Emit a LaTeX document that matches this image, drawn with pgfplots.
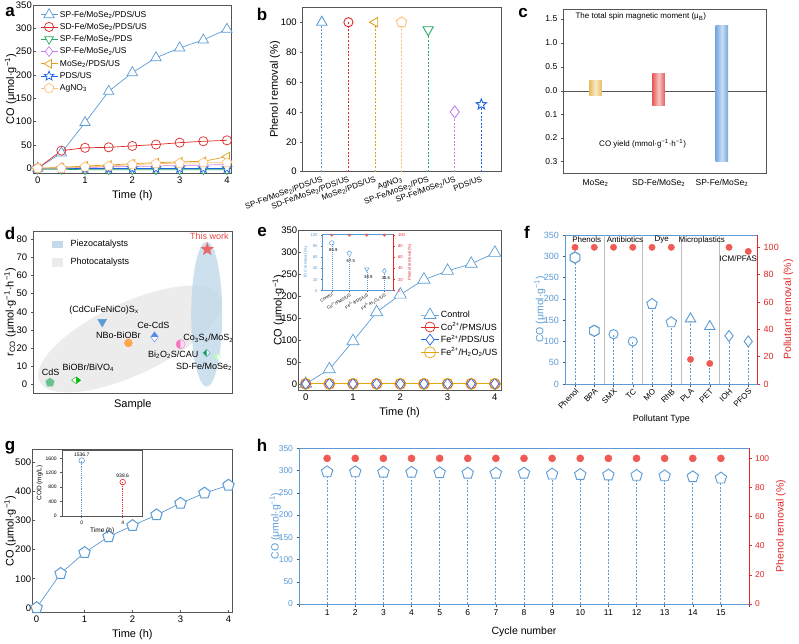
\documentclass[border=0pt]{standalone}
\usepackage{pgfplots}
\pgfplotsset{compat=1.18}
\usepackage{fontspec}
\setmainfont{Liberation Sans}
\usetikzlibrary{plotmarks}

\definecolor{cblue}{RGB}{91,155,213}
\definecolor{cred}{RGB}{224,40,40}
\definecolor{cgreen}{RGB}{40,168,100}
\definecolor{cpurple}{RGB}{196,128,240}
\definecolor{corange}{RGB}{222,160,30}
\definecolor{cstar}{RGB}{30,96,228}
\definecolor{cpeach}{RGB}{255,192,120}
\definecolor{cyell}{RGB}{226,168,20}
\definecolor{cdblue}{RGB}{35,100,225}
\definecolor{csalmon}{RGB}{240,90,85}
\definecolor{cgold}{RGB}{232,188,90}
\definecolor{cbarred}{RGB}{232,90,90}
\definecolor{cbarblue}{RGB}{120,168,225}
\definecolor{cpiezo}{RGB}{196,218,234}
\definecolor{cphoto}{RGB}{236,236,236}
\definecolor{frame}{RGB}{85,85,85}

\newcommand{\fs}[1]{\fontsize{#1}{#1}\selectfont}
\newcommand{\sub}[1]{\textsubscript{#1}}
\newcommand{\sups}[1]{\textsuperscript{#1}}

% hexagon mark (vertex up)
\pgfdeclareplotmark{hexagon*}{%
  \pgfpathmoveto{\pgfqpointpolar{90}{\pgfplotmarksize}}%
  \pgfpathlineto{\pgfqpointpolar{150}{\pgfplotmarksize}}%
  \pgfpathlineto{\pgfqpointpolar{210}{\pgfplotmarksize}}%
  \pgfpathlineto{\pgfqpointpolar{270}{\pgfplotmarksize}}%
  \pgfpathlineto{\pgfqpointpolar{330}{\pgfplotmarksize}}%
  \pgfpathlineto{\pgfqpointpolar{30}{\pgfplotmarksize}}%
  \pgfpathclose
  \pgfusepathqfillstroke}
% five-pointed star mark
\pgfdeclareplotmark{fivestar*}{%
  \pgfpathmoveto{\pgfpointpolar{90}{\pgfplotmarksize}}%
  \pgfpathlineto{\pgfpointpolar{126}{0.42\pgfplotmarksize}}%
  \pgfpathlineto{\pgfpointpolar{162}{\pgfplotmarksize}}%
  \pgfpathlineto{\pgfpointpolar{198}{0.42\pgfplotmarksize}}%
  \pgfpathlineto{\pgfpointpolar{234}{\pgfplotmarksize}}%
  \pgfpathlineto{\pgfpointpolar{270}{0.42\pgfplotmarksize}}%
  \pgfpathlineto{\pgfpointpolar{306}{\pgfplotmarksize}}%
  \pgfpathlineto{\pgfpointpolar{342}{0.42\pgfplotmarksize}}%
  \pgfpathlineto{\pgfpointpolar{18}{\pgfplotmarksize}}%
  \pgfpathlineto{\pgfpointpolar{54}{0.42\pgfplotmarksize}}%
  \pgfpathclose
  \pgfusepathqfillstroke}

\pgfplotsset{
  /pgf/number format/assume math mode=true,
  /pgf/number format/1000 sep={},
  panel/.style={
    scale only axis, anchor=south west,
    axis line style={frame, line width=0.6pt},
    every tick/.style={frame, line width=0.5pt},
    tick align=outside, major tick length=2.5pt,
    xtick pos=bottom, ytick pos=left,
    tick label style={font=\fs{9.5}},
    label style={font=\fs{11}},
    clip=false,
  },
  tight/.style={tick align=inside, yticklabel style={inner sep=1pt}},
  ylab/.style={ylabel style={at={(axis description cs:#1,0.5)}, anchor=center}},
  openm/.style={mark options={solid, fill=white}},
  stem/.style={ycomb, line width=0.9pt, dash pattern=on 2pt off 1.6pt},
}

\begin{document}
\begin{tikzpicture}
\useasboundingbox (0pt,0pt) rectangle (799pt,643pt);

% ---------------- panel letters ----------------
\foreach \l/\px/\py in {a/10/12, b/262/14, c/523/13, d/10/233, e/262/232, f/527/232, g/10/448, h/262/445}
  \node[font=\bfseries\fs{17}] at (\px pt,643pt-\py pt) {\l};

% ================= (a) =================
\begin{axis}[panel, tight, at={(33pt,470pt)}, width=198.7pt, height=168pt,
  xmin=-0.1, xmax=4.1, ymin=-10, ymax=350,
  xtick={0,1,2,3,4}, ytick={0,50,...,350},
  xlabel={Time (h)}, ylabel={CO (μmol·g\sups{−1})}, ylab=-0.113,
  legend style={at={(0.03,0.985)}, anchor=north west, draw=none, fill=none,
    font=\fs{8.5}, row sep=0.6pt, inner sep=1pt},
  legend cell align=left]
\addplot[cblue, line width=0.7pt, mark=triangle*, mark size=6, openm]
  coordinates {(0,0) (0.5,33) (1,98) (1.5,165) (2,205) (2.5,237) (3,258) (3.5,275) (4,298)};
\addlegendentry{SP-Fe/MoSe\sub{2}/PDS/US}
\addplot[cred, line width=0.7pt, mark=o, mark size=4.6, openm]
  coordinates {(0,0) (0.5,38) (1,44) (1.5,45) (2,48) (2.5,51) (3,55) (3.5,58) (4,60)};
\addlegendentry{SD-Fe/MoSe\sub{2}/PDS/US}
\addplot[cgreen, line width=0.7pt, mark=triangle*, mark size=5, mark options={solid, fill=white, rotate=180}]
  coordinates {(0,-2) (0.5,-2) (1,-3) (1.5,-3) (2,-3) (2.5,-3) (3,-3) (3.5,-3) (4,-3)};
\addlegendentry{SP-Fe/MoSe\sub{2}/PDS}
\addplot[cpurple, line width=0.7pt, mark=diamond*, mark size=5, openm]
  coordinates {(0,0) (0.5,1) (1,2) (1.5,3) (2,4) (2.5,5) (3,6) (3.5,7) (4,8)};
\addlegendentry{SP-Fe/MoSe\sub{2}/US}
\addplot[corange, line width=0.7pt, mark=triangle*, mark size=5, mark options={solid, fill=white, rotate=90}]
  coordinates {(0,0) (0.5,2) (1,5) (1.5,7) (2,10) (2.5,12) (3,14) (3.5,15) (4,25)};
\addlegendentry{MoSe\sub{2}/PDS/US}
\addplot[cstar, line width=0.7pt, mark=fivestar*, mark size=5, openm]
  coordinates {(0,0) (0.5,0) (1,0) (1.5,0) (2,0) (2.5,0) (3,0) (3.5,0) (4,0)};
\addlegendentry{PDS/US}
\addplot[cpeach, line width=0.7pt, mark=pentagon*, mark size=5, openm]
  coordinates {(0,0) (0.5,0) (1,3) (1.5,5) (2,8) (2.5,10) (3,11) (3.5,12) (4,12)};
\addlegendentry{AgNO\sub{3}}
\end{axis}

% ================= (b) =================
\begin{axis}[panel, at={(302.7pt,471.3pt)}, width=198.3pt, height=164.4pt,
  xmin=-0.72, xmax=6.74, ymin=0, ymax=110,
  xtick={0,...,6},
  xticklabels={SP-Fe/MoSe\sub{2}/PDS/US, SD-Fe/MoSe\sub{2}/PDS/US, MoSe\sub{2}/PDS/US,
    AgNO\sub{3}, SP-Fe/MoSe\sub{2}/PDS, SP-Fe/MoSe\sub{2}/US, PDS/US},
  xticklabel style={rotate=20, anchor=north east, font=\fs{8}, inner sep=1pt},
  major x tick style={draw=none},
  ytick={0,20,...,100},
  ylabel={Phenol removal (\%)}, ylab=-0.14]
\addplot[cblue, stem, mark=triangle*, mark size=6, openm] coordinates {(0,100)};
\addplot[cred, stem, mark=o, mark size=4.6, openm] coordinates {(1,100)};
\addplot[corange, stem, mark=triangle*, mark size=5.5, mark options={solid, fill=white, rotate=90}] coordinates {(2,100)};
\addplot[cpeach, stem, mark=pentagon*, mark size=5.5, openm] coordinates {(3,100)};
\addplot[cgreen, stem, mark=triangle*, mark size=6, mark options={solid, fill=white, rotate=180}] coordinates {(4,95)};
\addplot[cpurple, stem, mark=diamond*, mark size=6, openm] coordinates {(5,40)};
\addplot[cstar, stem, mark=fivestar*, mark size=5.5, openm] coordinates {(6,45)};
\end{axis}

% ================= (c) =================
% upper half: spin magnetic moment
\begin{axis}[panel, at={(563.3pt,552pt)}, width=203.4pt, height=81.7pt,
  xmin=-0.51, xmax=2.71, ymin=0, ymax=1.7,
  xtick=\empty, ytick={0,0.5,1,1.5},
  yticklabel style={/pgf/number format/.cd, fixed, fixed zerofill, precision=1},
  tick label style={font=\fs{8.5}}]
\addplot[ybar, bar width=12.5pt, bar shift=0pt, draw=none, left color=cgold, right color=cgold, middle color=cgold!30!white] coordinates {(0,0.21)};
\addplot[ybar, bar width=12.5pt, bar shift=0pt, draw=none, left color=cbarred, right color=cbarred, middle color=cbarred!35!white] coordinates {(1,0.37)};
\addplot[ybar, bar width=12.5pt, bar shift=0pt, draw=none, left color=cbarblue, right color=cbarblue, middle color=cbarblue!40!white] coordinates {(2,1.36)};
\end{axis}
% lower half: CO yield (downwards)
\begin{axis}[panel, at={(563.3pt,469.7pt)}, width=203.4pt, height=82.3pt,
  xmin=-0.51, xmax=2.71, ymin=0, ymax=0.35, y dir=reverse,
  xtick={0,1,2},
  xticklabels={MoSe\sub{2}, SD-Fe/MoSe\sub{2}, SP-Fe/MoSe\sub{2}},
  major x tick style={draw=none},
  ytick={0.1,0.2,0.3},
  yticklabel style={/pgf/number format/.cd, fixed, fixed zerofill, precision=1},
  tick label style={font=\fs{8.5}}]
\addplot[ybar, bar width=12.5pt, bar shift=0pt, draw=none, left color=cgold, right color=cgold, middle color=cgold!30!white] coordinates {(0,0.02)};
\addplot[ybar, bar width=12.5pt, bar shift=0pt, draw=none, left color=cbarred, right color=cbarred, middle color=cbarred!35!white] coordinates {(1,0.06)};
\addplot[ybar, bar width=12.5pt, bar shift=0pt, draw=none, left color=cbarblue, right color=cbarblue, middle color=cbarblue!40!white] coordinates {(2,0.30)};
\end{axis}
\node[anchor=west, font=\fs{8}] at (572pt,626.3pt) {The total spin magnetic moment (μ\sub{B})};
\node[anchor=west, font=\fs{8}] at (595.7pt,499pt) {CO yield (mmol·g\sups{−1}·h\sups{−1})};

% ================= (d) =================
\fill[cphoto, rotate around={25:(130pt,304pt)}] (130pt,304pt) ellipse (100pt and 36pt);
\fill[cpiezo, opacity=0.85] (206.7pt,328.8pt) ellipse (15.5pt and 72.5pt);
\begin{axis}[panel, at={(33.3pt,249.7pt)}, width=199pt, height=162.3pt,
  xmin=0.36, xmax=7.98, ymin=-5, ymax=84.6,
  xtick=\empty, ytick={0,10,...,80},
  xlabel={Sample}, ylabel={r\sub{CO} (μmol·g\sups{−1}·h\sups{−1})}, ylab=-0.117]
\addplot[only marks, mark=pentagon*, mark size=4.5, color=cgreen!70!white] coordinates {(1,1)};
\addplot[only marks, mark=halfdiamond*, mark size=4.5, draw=green!70!black, fill=green!75!black, mark options={rotate=90}, mark color=white] coordinates {(2,2.2)};
\addplot[only marks, mark=triangle*, mark size=5, color=cblue, mark options={rotate=180}] coordinates {(3,34.4)};
\addplot[only marks, mark=*, mark size=4, color=orange!70!white, draw=none] coordinates {(4,22.8)};
\addplot[only marks, mark=halfdiamond*, mark size=5, draw=cdblue!80!white, fill=white, mark color=cdblue!75!white] coordinates {(5,26.1)};
\addplot[only marks, mark=halfcircle*, mark size=4.6, draw=magenta!50!white, fill=magenta!55!white, mark color=magenta!15!white, mark options={rotate=90}] coordinates {(6,22.1)};
\addplot[only marks, mark=halfsquare right*, mark size=3.6, draw=teal!70!white, fill=white, mark color=teal!70!green] coordinates {(7,17.3)};
\addplot[only marks, mark=halfsquare right*, mark size=3.6, draw=green!35!white, fill=white, mark color=green!25!white] coordinates {(7.41,15.1)};
\addplot[only marks, mark=fivestar*, mark size=6.5, color=cred!70!white, mark options={fill=cred!70!white}] coordinates {(7.02,74.5)};
\end{axis}
\fill[cpiezo] (51.7pt,394.7pt) rectangle (63.3pt,402.3pt);
\node[anchor=west, font=\fs{9}] at (67pt,398.7pt) {Piezocatalysts};
\fill[black!8] (51.7pt,376.3pt) rectangle (63.3pt,384.7pt);
\node[anchor=west, font=\fs{9}] at (67pt,380.7pt) {Photocatalysts};
\node[font=\fs{9}, text=cred!85!white] at (209.3pt,406.3pt) {This work};
\node[font=\fs{9}] at (104pt,333pt) {(CdCuFeNiCo)S\sub{x}};
\node[font=\fs{9}] at (118.3pt,308pt) {NBo-BiOBr};
\node[font=\fs{9}] at (153.3pt,318pt) {Ce-CdS};
\node[font=\fs{9}] at (208.3pt,304.7pt) {Co\sub{3}S\sub{4}/MoS\sub{2}};
\node[font=\fs{9}] at (173.3pt,288pt) {Bi\sub{2}O\sub{2}S/CAU};
\node[font=\fs{9}] at (204pt,276.3pt) {SD-Fe/MoSe\sub{2}};
\node[font=\fs{9}] at (50.7pt,270.3pt) {CdS};
\node[font=\fs{9}] at (88.3pt,275.3pt) {BiOBr/BiVO\sub{4}};

% ================= (e) =================
\begin{axis}[panel, tight, at={(298.3pt,253pt)}, width=202.7pt, height=160pt,
  xmin=-0.156, xmax=4.13, ymin=-14, ymax=350,
  xtick={0,1,2,3,4}, ytick={0,50,...,350},
  xlabel={Time (h)}, ylabel={CO (μmol·g\sups{−1})}, ylab=-0.099,
  legend style={at={(0.6,0.52)}, anchor=north west, draw=none, fill=none,
    font=\fs{9}, row sep=-0.8pt, inner sep=1pt},
  legend cell align=left]
\addplot[cblue, line width=0.7pt, mark=triangle*, mark size=7, openm]
  coordinates {(0,0) (0.5,33) (1,97) (1.5,163) (2,203) (2.5,237) (3,257) (3.5,273) (4,298)};
\addlegendentry{Control}
\addplot[cred, line width=0.7pt, mark=o, mark size=5, openm]
  coordinates {(0,0) (0.5,0) (1,0) (1.5,0) (2,0) (2.5,0) (3,0) (3.5,0) (4,0)};
\addlegendentry{Co\sups{2+}/PMS/US}
\addplot[cdblue, line width=0.7pt, mark=diamond*, mark size=5.5, openm]
  coordinates {(0,0) (0.5,0) (1,0) (1.5,0) (2,0) (2.5,0) (3,0) (3.5,0) (4,0)};
\addlegendentry{Fe\sups{2+}/PDS/US}
\addplot[cyell, line width=0.7pt, mark=o, mark size=5.6, openm]
  coordinates {(0,0) (0.5,0) (1,0) (1.5,0) (2,0) (2.5,0) (3,0) (3.5,0) (4,0)};
\addlegendentry{Fe\sups{2+}/H\sub{2}O\sub{2}/US}
\end{axis}
% inset: TOC removal
\begin{axis}[panel, at={(322.3pt,352.3pt)}, width=71pt, height=56.7pt,
  xmin=-0.54, xmax=3.51, ymin=0, ymax=102,
  xtick={0,1,2,3},
  xticklabels={Control, Co\sups{2+}/PMS/US, Fe\sups{2+}/PDS/US, Fe\sups{2+}/H\sub{2}O\sub{2}/US},
  xticklabel style={rotate=30, anchor=north east, font=\fs{4.2}, inner sep=0.5pt},
  ytick={0,20,...,100},
  tick label style={font=\fs{4.2}},
  yticklabel style={text=cblue},
  major tick length=1.2pt,
  ylabel={TOC removal (\%)}, ylabel style={font=\fs{4.2}, text=cblue, yshift=-4pt},
  axis line style={frame, line width=0.4pt},
  y axis line style={cblue},
  every node near coord/.append style={font=\fs{4.2}, anchor=north, yshift=-2.5pt, xshift=1.5pt, text=black},
  nodes near coords, point meta=y]
\addplot[cblue, stem, line width=0.5pt, dash pattern=on 1pt off 1pt, mark=o, mark size=2.3, openm] coordinates {(0,85.9)};
\addplot[cblue, stem, line width=0.5pt, dash pattern=on 1pt off 1pt, mark=pentagon*, mark size=2.3, openm] coordinates {(1,67.5)};
\addplot[cblue, stem, line width=0.5pt, dash pattern=on 1pt off 1pt, mark=triangle*, mark size=2.5, mark options={solid, fill=white, rotate=180}] coordinates {(2,38.9)};
\addplot[cblue, stem, line width=0.5pt, dash pattern=on 1pt off 1pt, mark=diamond*, mark size=2.5, openm] coordinates {(3,35.6)};
\end{axis}
\begin{axis}[panel, at={(322.3pt,352.3pt)}, width=71pt, height=56.7pt,
  xmin=-0.54, xmax=3.51, ymin=0, ymax=102,
  axis x line=none, axis y line*=right,
  y axis line style={cred, line width=0.5pt},
  ytick={0,20,...,100}, ytick pos=right,
  tick label style={font=\fs{4.2}, text=cred},
  major tick length=1.2pt,
  every tick/.style={cred, line width=0.4pt},
  ylabel={Phenol removal (\%)}, ylabel style={font=\fs{4.2}, text=cred, yshift=4pt}]
\addplot[only marks, mark=*, mark size=1.3, color=csalmon] coordinates {(0,100) (1,100) (2,100) (3,100)};
\end{axis}

% ================= (f) =================
\begin{axis}[panel, at={(565pt,259pt)}, width=192.7pt, height=149pt,
  xmin=-0.52, xmax=9.49, ymin=0, ymax=350,
  xtick={0,...,9},
  xticklabels={Phenol, BPA, SMX, TC, MO, RhB, PLA, PET, IOH, PFOS},
  xticklabel style={rotate=45, anchor=north east, font=\fs{8}, inner sep=1pt},
  ytick={0,50,...,350},
  tick label style={font=\fs{9}},
  yticklabel style={text=cblue},
  y axis line style={cblue, line width=0.8pt},
  xlabel={Pollutant Type}, xlabel style={font=\fs{9}},
  ylabel={CO (μmol·g\sups{−1})}, ylabel style={text=cblue, font=\fs{10.5}}, ylab=-0.13]
\foreach \s in {1.5,3.5,5.5,7.5}
  \edef\tmp{\noexpand\draw[black!25, line width=0.6pt] (axis cs:\s,0) -- (axis cs:\s,350);}\tmp
\addplot[cblue, stem, mark=hexagon*, mark size=5.5, openm] coordinates {(0,297) (1,125)};
\addplot[cblue, stem, mark=o, mark size=4.6, openm] coordinates {(2,117) (3,100)};
\addplot[cblue, stem, mark=pentagon*, mark size=5.5, openm] coordinates {(4,188) (5,145)};
\addplot[cblue, stem, mark=triangle*, mark size=6, openm] coordinates {(6,153) (7,135)};
\addplot[cblue, stem, mark=diamond*, mark size=5.5, openm] coordinates {(8,113) (9,100)};
\end{axis}
\begin{axis}[panel, at={(565pt,259pt)}, width=192.7pt, height=149pt,
  xmin=-0.52, xmax=9.49, ymin=0, ymax=109,
  axis x line=none, axis y line*=right, ytick pos=right,
  y axis line style={cred, line width=0.8pt},
  every tick/.style={cred, line width=0.5pt},
  ytick={0,20,...,100},
  tick label style={font=\fs{9}, text=cred},
  ylabel={Pollutant removal (\%)}, ylabel style={text=cred, font=\fs{10.5}}, ylab=1.159]
\addplot[only marks, mark=*, mark size=3.2, color=csalmon] coordinates
  {(0,100) (1,100) (2,100) (3,100) (4,100) (5,100) (6,18) (7,15) (8,100) (9,97)};
\end{axis}
\node[font=\fs{8}] at (586.7pt,403.5pt) {Phenols};
\node[font=\fs{8}] at (625pt,403pt) {Antibiotics};
\node[font=\fs{8}] at (661.7pt,403pt) {Dye};
\node[font=\fs{8}] at (701.7pt,403pt) {Microplastics};
\node[font=\fs{8}] at (738.3pt,384pt) {ICM/PFAS};

% ================= (g) =================
\begin{axis}[panel, tight, at={(32.3pt,30.3pt)}, width=200pt, height=163.4pt,
  xmin=-0.09, xmax=4.08, ymin=-17, ymax=546,
  xtick={0,1,2,3,4}, ytick={0,100,...,500},
  xlabel={Time (h)}, ylabel={CO (μmol·g\sups{−1})}, ylab=-0.111]
\addplot[cblue, line width=0.7pt, mark=pentagon*, mark size=6, mark options={solid, fill=white, line width=1pt}]
  coordinates {(0,0) (0.5,118) (1,190) (1.5,245) (2,283) (2.5,320) (3,360) (3.5,395) (4,422)};
\end{axis}
% inset: COD
\begin{axis}[panel, at={(61.7pt,127pt)}, width=81pt, height=66pt,
  xmin=-1.95, xmax=5.95, ymin=0, ymax=1830,
  xtick={0,4}, ytick={0,400,...,1600},
  tick label style={font=\fs{5}}, major tick length=1.5pt,
  axis line style={frame, line width=0.4pt},
  xlabel={Time (h)}, ylabel={COD (mg/L)},
  label style={font=\fs{6.5}},
  xlabel style={yshift=4pt}, ylabel style={yshift=-4pt},
  nodes near coords, point meta=y,
  every node near coord/.append style={font=\fs{5}, anchor=south, yshift=0.5pt, text=black}]
\addplot[cblue, stem, line width=0.6pt, dash pattern=on 1.2pt off 1pt, mark=o, mark size=2.8, openm] coordinates {(0,1536.7)};
\addplot[cred, stem, line width=0.6pt, dash pattern=on 1.2pt off 1pt, mark=o, mark size=2.8, openm] coordinates {(4,938.6)};
\end{axis}

% ================= (h) =================
\begin{axis}[panel, at={(299pt,39pt)}, width=450pt, height=155.7pt,
  xmin=0, xmax=16, ymin=0, ymax=350,
  xtick={0,...,16},
  xticklabels={,1,2,3,4,5,6,7,8,9,10,11,12,13,14,15,},
  ytick={0,50,...,350},
  tick label style={font=\fs{8.5}},
  yticklabel style={text=cblue},
  y axis line style={cblue, line width=0.8pt},
  xlabel={Cycle number}, xlabel style={font=\fs{10.5}, yshift=-4pt},
  ylabel={CO (μmol·g\sups{−1})}, ylabel style={text=cblue, font=\fs{10.5}}, ylab=-0.053]
\addplot[cblue, stem, mark=pentagon*, mark size=6, openm] coordinates
  {(1,297) (2,297) (3,296) (4,296) (5,295) (6,294) (7,294) (8,294) (9,292) (10,291) (11,290) (12,289) (13,288) (14,286) (15,283)};
\end{axis}
\begin{axis}[panel, at={(299pt,39pt)}, width=450pt, height=155.7pt,
  xmin=0, xmax=16, ymin=0, ymax=106.9,
  axis x line=none, axis y line*=right, ytick pos=right,
  y axis line style={cred, line width=0.8pt},
  every tick/.style={cred, line width=0.5pt},
  ytick={0,20,...,100},
  tick label style={font=\fs{8.5}, text=cred},
  ylabel={Phenol removal (\%)}, ylabel style={text=cred, font=\fs{10.5}}, ylab=1.071]
\addplot[only marks, mark=*, mark size=3.6, color=csalmon] coordinates
  {(1,100) (2,100) (3,100) (4,100) (5,100) (6,100) (7,100) (8,100) (9,100) (10,100) (11,100) (12,100) (13,100) (14,100) (15,100)};
\end{axis}

\end{tikzpicture}
\end{document}
